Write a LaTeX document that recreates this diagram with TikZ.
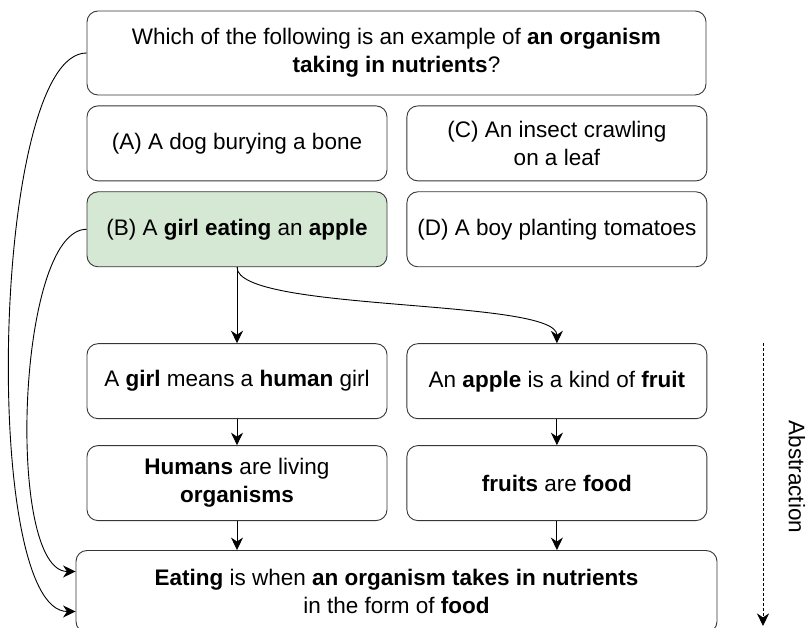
\documentclass[tikz,border=0pt]{standalone}
\usepackage{fontspec}
\setmainfont{Liberation Sans}
\usepackage{tikz}
\usetikzlibrary{arrows.meta,positioning,calc}
\definecolor{boxline}{RGB}{54,54,54}
\definecolor{lightgreen}{RGB}{213,232,212}

\begin{document}
\begin{tikzpicture}[x=1pt,y=1pt,
    node distance=10pt and 19pt,
    box/.style={rectangle,draw=boxline,line width=0.9pt,rounded corners=11pt,
      align=center,minimum width=300pt,minimum height=75pt,inner sep=0pt,
      font=\fontsize{22.5}{28}\selectfont},
    a/.style={-{Stealth[length=12.5pt,width=12pt,inset=4pt]},line width=0.9pt}]
    \useasboundingbox (0,0) rectangle (808,628);
    \node[box,minimum width=619pt,minimum height=84pt] (q) at (396.5,575)
      {Which of the following is an example of \textbf{an organism}\\\textbf{taking in nutrients}?};
    \node[box,below right=10pt and 0pt of q.south west] (optA) {(A) A dog burying a bone};
    \node[box,right=of optA] (optC) {(C) An insect crawling\\on a leaf};
    \node[box,fill=lightgreen,below=of optA] (optB) {(B) A \textbf{girl eating} an \textbf{apple}};
    \node[box,right=of optB] (optD) {(D) A boy planting tomatoes};
    \node[box,below=76pt of optB] (girl) {A \textbf{girl} means a \textbf{human} girl};
    \node[box,right=of girl] (apple) {An \textbf{apple} is a kind of \textbf{fruit}};
    \node[box,below=26pt of girl] (human) {\textbf{Humans} are living\\\textbf{organisms}};
    \node[box,right=of human] (fruit) {\textbf{fruits} are \textbf{food}};
    \node[box,minimum width=641pt,minimum height=82pt,anchor=north] (eat)
      at ($(human.south -| q.south)+(0,-29pt)$)
      {\textbf{Eating} is when \textbf{an organism takes in nutrients}\\in the form of \textbf{food}};
    % abstraction axis
    \coordinate (absTop) at (763,285);
    \coordinate (absBot) at (763,2);
    \node[rotate=-90,font=\fontsize{22.5}{28}\selectfont] (abs) at (797,151) {Abstraction};
    \draw[a,line width=0.7pt,dash pattern=on 3pt off 2pt] (absTop) -- (absBot);
    % reasoning steps
    \draw[a] (optB.south) -- (girl.north);
    \draw[a] (optB.south) .. controls +(0,-45) and +(0,45) .. (apple.north);
    \draw[a] (girl) -- (human);
    \draw[a] (apple) -- (fruit);
    \draw[a] (human.south) -- (human.south |- eat.north);
    \draw[a] (fruit.south) -- (fruit.south |- eat.north);
    \draw[a] (optB.west) .. controls +(-70,0) and +(-70,0) .. ([yshift=20pt]eat.west);
    \draw[a] (q.west) .. controls +(-95,0) and +(-95,0) .. ([yshift=-20pt]eat.west);
\end{tikzpicture}
\end{document}
